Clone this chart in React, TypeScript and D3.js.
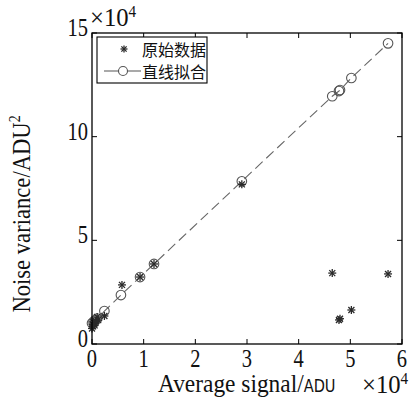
import React from 'react'
import * as d3 from 'd3'

// values in units of 1e4
const rawX = [0.0, 0.01, 0.02, 0.03, 0.05, 0.06, 0.08, 0.1, 0.12, 0.24, 0.58, 0.93, 1.2, 2.9, 4.65, 4.78, 4.8, 5.02, 5.73]
const rawY = [0.75, 0.95, 0.85, 1.05, 0.9, 1.0, 1.1, 1.3, 1.15, 1.35, 2.85, 3.23, 3.86, 7.7, 3.42, 1.16, 1.22, 1.64, 3.38]
const fitX = [0.0, 0.03, 0.06, 0.1, 0.24, 0.56, 0.93, 1.2, 2.9, 4.65, 4.78, 4.8, 5.02, 5.73]
const fitY = [1.0, 1.07, 1.14, 1.23, 1.59, 2.36, 3.23, 3.86, 7.85, 11.95, 12.2, 12.25, 12.83, 14.5]
const xTicks = [0, 1, 2, 3, 4, 5, 6]
const yTicks = [0, 5, 10, 15]

const W = 419, H = 399
const pad = { l: 92, r: 17, t: 33, b: 55 }
const SERIF = '"Liberation Serif", "Times New Roman", serif'
const CJK = '"Noto Sans CJK SC", sans-serif'
const NARROW = '"DejaVu Sans Condensed", "Liberation Sans Narrow", sans-serif'

function Star({ cx, cy, s = 4 }: { cx: number; cy: number; s?: number }) {
  const d = s * 0.75
  return (
    <g stroke="#2a2a2a" strokeWidth={1.3}>
      <line x1={cx - s} y1={cy} x2={cx + s} y2={cy} />
      <line x1={cx} y1={cy - s} x2={cx} y2={cy + s} />
      <line x1={cx - d} y1={cy - d} x2={cx + d} y2={cy + d} />
      <line x1={cx - d} y1={cy + d} x2={cx + d} y2={cy - d} />
    </g>
  )
}

// narrow, tall serif like the original figure
function T({ x, y, sx = 0.82, rot = 0, anchor = 'start', size = 25, children }:
  { x: number; y: number; sx?: number; rot?: number; anchor?: string; size?: number; children: React.ReactNode }) {
  return (
    <text transform={`translate(${x},${y}) rotate(${rot}) scale(${sx},1)`} textAnchor={anchor}
      fontFamily={SERIF} fontSize={size} fill="#111">{children}</text>
  )
}

export default function App() {
  const x = d3.scaleLinear().domain([0, 6]).range([pad.l, W - pad.r])
  const y = d3.scaleLinear().domain([0, 15]).range([H - pad.b, pad.t])
  const fitPts = fitX.map((v, i) => [v, fitY[i]] as [number, number])
  const line = d3.line<[number, number]>().x(d => x(d[0])).y(d => y(d[1]))
  const x0 = x(0), x1 = x(6), y0 = y(0), y1 = y(15)

  return (
    <div style={{ position: 'fixed', left: 0, top: 0 }}>
      <svg width={W} height={H} style={{ display: 'block', background: '#fff' }}>
        {/* fit line */}
        <path d={line(fitPts) || ''} fill="none" stroke="#666" strokeWidth={1.1} strokeDasharray="10,5" />
        {fitPts.map((p, i) => (
          <circle key={'c' + i} cx={x(p[0])} cy={y(p[1])} r={4.8} fill="none" stroke="#555" strokeWidth={1.1} />
        ))}
        {rawX.map((v, i) => <Star key={'s' + i} cx={x(v)} cy={y(rawY[i])} />)}

        {/* frame */}
        <rect x={x0} y={y1} width={x1 - x0} height={y0 - y1} fill="none" stroke="#000" strokeWidth={1.3} />
        {xTicks.map(t => (
          <g key={'xt' + t}>
            <line x1={x(t)} x2={x(t)} y1={y0} y2={y0 - 5} stroke="#000" />
            <line x1={x(t)} x2={x(t)} y1={y1} y2={y1 + 5} stroke="#000" />
            <T x={x(t)} y={y0 + 23} anchor="middle">{t}</T>
          </g>
        ))}
        {yTicks.map(t => (
          <g key={'yt' + t}>
            <line x1={x0} x2={x0 + 5} y1={y(t)} y2={y(t)} stroke="#000" />
            <line x1={x1} x2={x1 - 5} y1={y(t)} y2={y(t)} stroke="#000" />
            <T x={x0 - 4} y={y(t) + 3} anchor="end">{t}</T>
          </g>
        ))}

        {/* exponent labels */}
        <T x={90} y={26} sx={0.95} size={26}>×10<tspan fontSize={16} dy={-9}>4</tspan></T>
        <T x={362} y={393} sx={0.95} size={26}>×10<tspan fontSize={16} dy={-9}>4</tspan></T>

        {/* axis titles */}
        <T x={158} y={392} sx={0.9} size={26}>
          Average signal/<tspan fontFamily={NARROW} fontSize={18}>ADU</tspan>
        </T>
        <T x={30} y={214} rot={-90} sx={0.87} size={26} anchor="middle">
          Noise variance/ADU<tspan fontSize={16} dy={-10}>2</tspan>
        </T>

        {/* legend */}
        <rect x={97} y={37} width={110} height={46} fill="#fff" stroke="#000" strokeWidth={1.1} />
        <Star cx={124} cy={49} s={3.5} />
        <text x={142} y={49} dominantBaseline="central" fontFamily={CJK} fontSize={16} fill="#111">原始数据</text>
        <line x1={104} x2={141} y1={71} y2={71} stroke="#555" strokeWidth={1.1} />
        <circle cx={123} cy={71} r={4.5} fill="#fff" stroke="#555" strokeWidth={1.1} />
        <text x={142} y={71} dominantBaseline="central" fontFamily={CJK} fontSize={16} fill="#111">直线拟合</text>
      </svg>
    </div>
  )
}
